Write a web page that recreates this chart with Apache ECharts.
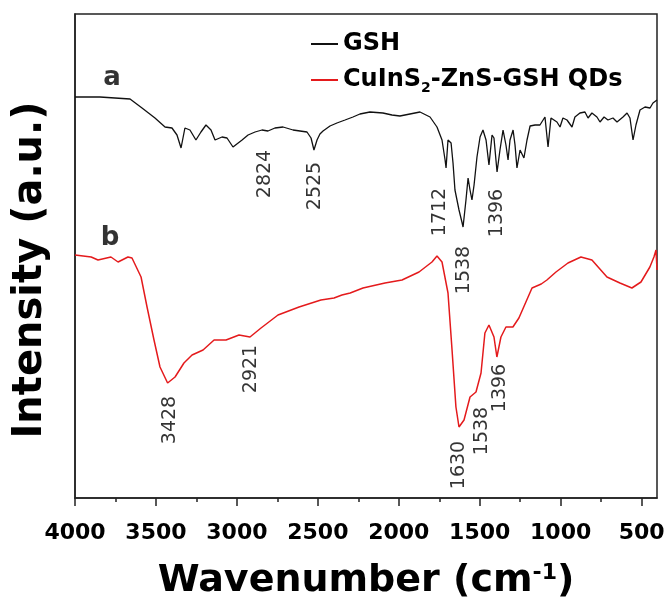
<!DOCTYPE html>
<html>
<head>
<meta charset="utf-8">
<script src="https://cdn.jsdelivr.net/npm/echarts@6/dist/echarts.min.js"></script>
<style>
  html, body { margin: 0; padding: 0; background: #fff; }
  #chart { width: 669px; height: 608px; }
</style>
</head>
<body>
<div id="chart"></div>
<script>
// wavenumber (cm-1) and intensity (a.u.)
const gshWave = [4000, 3907, 3846, 3753, 3660, 3586, 3506, 3444, 3401, 3370, 3345, 3321, 3290, 3253, 3222, 3191, 3160,
  3135, 3092, 3061, 3024, 2968, 2931, 2888, 2845, 2808, 2765, 2715, 2653, 2610, 2567, 2542, 2524, 2505, 2487, 2468,
  2425, 2382, 2332, 2283, 2240, 2178, 2098, 2042, 1993, 1931, 1869, 1807, 1764, 1733, 1714, 1708, 1696, 1677, 1665,
  1653, 1628, 1610, 1603, 1585, 1572, 1560, 1548, 1535, 1517, 1498, 1480, 1461, 1443, 1424, 1412, 1393, 1375, 1356,
  1338, 1325, 1313, 1294, 1282, 1270, 1251, 1239, 1227, 1208, 1189, 1158, 1128, 1097, 1078, 1060, 1023, 1004, 986,
  961, 930, 912, 881, 850, 831, 807, 776, 757, 732, 708, 677, 652, 615, 590, 572, 553, 535, 510, 479, 448, 430, 405];
const gshIntensity = [401, 401, 401, 400, 399, 390, 380, 371, 370, 363, 350, 370, 368, 358, 366, 373, 368,
  358, 361, 360, 351, 358, 363, 366, 368, 367, 370, 371, 368, 367, 366, 360, 348, 358, 364, 367,
  372, 375, 378, 381, 384, 386, 385, 383, 382, 384, 386, 381, 371, 358, 338, 330, 358, 355, 335,
  308, 288, 276, 271, 298, 320, 308, 298, 313, 341, 361, 368, 358, 333, 363, 360, 326, 348, 368,
  353, 338, 358, 368, 353, 330, 348, 350, 340, 358, 372, 373, 373, 381, 351, 380, 376, 371, 380,
  378, 371, 381, 385, 386, 380, 385, 381, 376, 381, 378, 380, 376, 381, 385, 380, 358, 373, 388, 391, 390, 395, 398];

const qdWave = [4000, 3900, 3858, 3778, 3734, 3673, 3648, 3592, 3555, 3512, 3475, 3428, 3382, 3327, 3277, 3209, 3141,
  3067, 2987, 2919, 2851, 2746, 2616, 2481, 2400, 2351, 2300, 2221, 2085, 1980, 1875, 1795, 1764, 1733, 1696, 1671,
  1647, 1628, 1597, 1560, 1523, 1492, 1468, 1443, 1412, 1394, 1369, 1338, 1295, 1258, 1177, 1120, 1085, 1029, 955,
  875, 807, 714, 634, 560, 504, 449, 424, 411, 405];
const qdIntensity = [243, 241, 238, 241, 236, 241, 240, 221, 191, 158, 131, 115, 121, 135, 143, 148, 158,
  158, 163, 161, 170, 183, 191, 198, 200, 203, 205, 210, 215, 218, 226, 236, 242, 236, 205, 148,
  91, 71, 78, 101, 106, 125, 165, 173, 161, 141, 161, 171, 171, 180, 210, 214, 218, 226, 235,
  241, 238, 221, 215, 210, 216, 231, 241, 248, 228];

const majorTicks = [4000, 3500, 3000, 2500, 2000, 1500, 1000, 500];
const minorTicks = [3750, 3250, 2750, 2250, 1750, 1250, 750];

// peak labels: [wavenumber, intensity, text]
const gshPeaks = [[2826, 324, '2824'], [2518, 312, '2525'], [1746, 286, '1712'], [1597, 228, '1538'], [1393, 285, '1396']];
const qdPeaks = [[3413, 78, '3428'], [2913, 129, '2921'], [1628, 33, '1630'], [1486, 67, '1538'], [1375, 110, '1396']];
const panelLetters = [[3771, 420, 'a'], [3784, 260, 'b']];

const chart = echarts.init(document.getElementById('chart'));
const FONT = 'DejaVu Sans';

const zip = (xs, ys) => xs.map((x, i) => [x, ys[i]]);

const xCommon = {
  type: 'value',
  min: 405,
  max: 4000,
  inverse: true,
  splitLine: { show: false }
};

const option = {
  animation: false,
  backgroundColor: '#fff',
  grid: {
    left: 75, right: 12, top: 14, bottom: 110,
    show: true, borderColor: '#222', borderWidth: 1.5
  },
  legend: {
    data: ['GSH', 'CuInS2-ZnS-GSH QDs'],
    orient: 'vertical',
    left: 306,
    top: 24,
    icon: 'rect',
    itemWidth: 27,
    itemHeight: 2,
    itemGap: 6,
    formatter: name => name === 'GSH' ? 'GSH' : 'CuInS{sub|2}-ZnS-GSH QDs',
    textStyle: {
      fontFamily: FONT, fontWeight: 'bold', fontSize: 24, color: '#000', lineHeight: 30,
      rich: {
        sub: { fontFamily: FONT, fontWeight: 'bold', fontSize: 14, color: '#000', verticalAlign: 'bottom', lineHeight: 14 }
      }
    }
  },
  xAxis: [
    Object.assign({}, xCommon, {
      name: 'Wavenumber (cm{sup|-1})',
      nameLocation: 'middle',
      nameGap: 64,
      nameTextStyle: {
        fontFamily: FONT, fontWeight: 'bold', fontSize: 38, color: '#000',
        rich: { sup: { fontFamily: FONT, fontWeight: 'bold', fontSize: 22, color: '#000', verticalAlign: 'top', padding: [0, 0, 6, 0] } }
      },
      axisLine: { show: true, lineStyle: { color: '#222', width: 1.5 } },
      axisTick: { show: true, customValues: majorTicks, length: 8, inside: false, lineStyle: { color: '#222', width: 1.5 } },
      axisLabel: {
        customValues: majorTicks, margin: 24,
        formatter: v => String(v),
        fontFamily: FONT, fontWeight: 'bold', fontSize: 22, color: '#000'
      }
    }),
    Object.assign({}, xCommon, {
      position: 'bottom',
      axisLine: { show: false },
      axisTick: { show: true, customValues: minorTicks, length: 4, lineStyle: { color: '#222', width: 1.5 } },
      axisLabel: { show: false, customValues: minorTicks }
    })
  ],
  yAxis: {
    type: 'value',
    min: 0,
    max: 484,
    name: 'Intensity (a.u.)',
    nameLocation: 'middle',
    nameGap: 24,
    nameRotate: 90,
    nameTextStyle: { fontFamily: FONT, fontWeight: 'bold', fontSize: 40, color: '#000', padding: [0, 28, 0, 0] },
    axisLine: { show: true, lineStyle: { color: '#222', width: 1.5 } },
    axisTick: { show: false },
    axisLabel: { show: false },
    splitLine: { show: false }
  },
  series: [
    {
      name: 'GSH', type: 'line', data: zip(gshWave, gshIntensity),
      showSymbol: false, color: '#111', lineStyle: { color: '#111', width: 1.3 }
    },
    {
      name: 'CuInS2-ZnS-GSH QDs', type: 'line', data: zip(qdWave, qdIntensity),
      showSymbol: false, color: '#e41a1c', lineStyle: { color: '#e41a1c', width: 1.5 }
    },
    {
      type: 'scatter', symbolSize: 0, silent: true,
      data: gshPeaks.concat(qdPeaks),
      label: {
        show: true, position: 'inside', rotate: 90,
        formatter: p => p.data[2],
        fontFamily: FONT, fontSize: 19, color: '#000'
      }
    },
    {
      type: 'scatter', symbolSize: 0, silent: true,
      data: panelLetters,
      label: {
        show: true, position: 'inside',
        formatter: p => p.data[2],
        fontFamily: FONT, fontWeight: 'bold', fontSize: 26, color: '#000'
      }
    }
  ]
};

chart.setOption(option);
</script>
</body>
</html>
